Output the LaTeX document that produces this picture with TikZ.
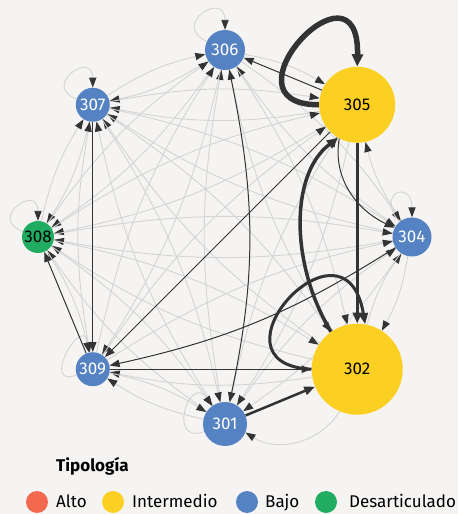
\documentclass[tikz,border=0pt]{standalone}
\usepackage{fontspec}
\setmainfont{Fira Sans}
\usetikzlibrary{arrows.meta}
\usetikzlibrary{calc}
\definecolor{fondo}{HTML}{F5F4F2}
\definecolor{alto}{HTML}{F2694F}
\definecolor{intermedio}{HTML}{FCD022}
\definecolor{bajo}{HTML}{5582C2}
\definecolor{desart}{HTML}{20AD62}
\definecolor{oscuro}{HTML}{333333}
\definecolor{claro}{HTML}{D4D4D4}
\pgfdeclarelayer{capafondo}
\pgfdeclarelayer{aristas}
\pgfsetlayers{capafondo,aristas,main}

\begin{document}
\begin{tikzpicture}[x=1pt,y=1pt,
  nodo/.style={circle,inner sep=0pt,font=\fontsize{17}{17}\selectfont},
  punta/.style={-{Triangle[length=9.5pt 0.5,width=6.5pt 0.8,color=oscuro]}},
  gris/.style={punta,draw=claro,line width=0.9pt},
  negro/.style={punta,draw=oscuro,line width=#1},
  negro/.default=1pt,
  marca/.style={circle,minimum size=22pt,inner sep=0pt},
  leyenda/.style={anchor=base west,inner sep=0pt,font=\fontsize{17}{17}\selectfont}]
\useasboundingbox (0,0) rectangle (458,514);
\begin{pgfonlayer}{capafondo}
\fill[fondo] (0,0) rectangle (458,514);
\end{pgfonlayer}
\coordinate (c) at (225,277);
\node[nodo,fill=bajo,text=white,minimum size=40pt] (n306) at ($(c)+(90:187)$) {306};
\node[nodo,fill=intermedio,minimum size=76pt] (n305) at ($(c)+(45:187)$) {305};
\node[nodo,fill=bajo,text=white,minimum size=39pt] (n304) at ($(c)+(0:187)$) {304};
\node[nodo,fill=intermedio,minimum size=91pt] (n302) at ($(c)+(-45:187)$) {302};
\node[nodo,fill=bajo,text=white,minimum size=44pt] (n301) at ($(c)+(-90:187)$) {301};
\node[nodo,fill=bajo,text=white,minimum size=34pt] (n309) at ($(c)+(-135:187)$) {309};
\node[nodo,fill=desart,minimum size=32pt] (n308) at ($(c)+(180:187)$) {308};
\node[nodo,fill=bajo,text=white,minimum size=34pt] (n307) at ($(c)+(135:187)$) {307};
\begin{pgfonlayer}{aristas}
% flujos menores
\foreach \a/\b in {301/304,301/305,301/306,301/307,301/308,301/309,
  302/304,302/306,302/307,302/308,302/309,
  304/301,304/302,304/305,304/306,304/307,304/308,
  305/301,305/307,305/308,
  306/302,306/304,306/305,306/307,306/308,306/309,
  307/301,307/302,307/304,307/305,307/306,307/308,
  308/301,308/302,308/304,308/305,308/306,308/307,308/309,
  309/301,309/304,309/305,309/306,309/307}
  \draw[gris] (n\a) to[bend left=10] (n\b);
\draw[gris] (n302) to[bend left=45] (n301);
\draw[gris] (n306) to[out=155,in=90,min distance=40pt] (n306);
\draw[gris] (n307) to[out=160,in=90,min distance=38pt] (n307);
\draw[gris] (n308) to[out=160,in=90,min distance=38pt] (n308);
\draw[gris] (n304) to[out=130,in=90,min distance=38pt] (n304);
\draw[gris] (n309) to[out=200,in=100,min distance=40pt] (n309);
\draw[gris] (n301) to[out=200,in=125,min distance=40pt] (n301);
% flujos mayores
\draw[negro=5.5pt] (n305.west) .. controls (215,409) and (360,565) .. (n305.north);
\draw[negro=3pt] (n305) -- (n302);
\draw[negro=3.5pt] (n302.125) .. controls (290,250) and (290,340) .. (n305.240);
\draw[negro=3pt] (n302.west) .. controls (200,150) and (345,310) .. (n302.80);
\draw[negro=2.5pt] (n301) -- (n302);
\draw[negro] (n305) -- (n306);
\draw[negro] (n306) to[bend left=12] (n301);
\draw[negro] (n307) -- (n309);
\draw[negro] (n309) -- (n308);
\draw[negro] (n305) -- (n309);
\draw[negro] (n304) to[bend left=10] (n309);
\draw[negro] (n309) -- (n302);
\draw[negro] (n305.242) to[out=260,in=155] (n304.152);
\end{pgfonlayer}
% leyenda
\node[leyenda,font=\fontsize{17}{17}\selectfont\bfseries] (titulo) at (56,42) {Tipología};
\node[marca,fill=alto] (m1) at (37,12) {};
\node[leyenda] (t1) at (56,6) {Alto};
\node[marca,fill=intermedio] (m2) at (113,12) {};
\node[leyenda] (t2) at (132,6) {Intermedio};
\node[marca,fill=bajo] (m3) at (247,12) {};
\node[leyenda] (t3) at (265,6) {Bajo};
\node[marca,fill=desart] (m4) at (326,12) {};
\node[leyenda] (t4) at (349,6) {Desarticulado};
\end{tikzpicture}
\end{document}
